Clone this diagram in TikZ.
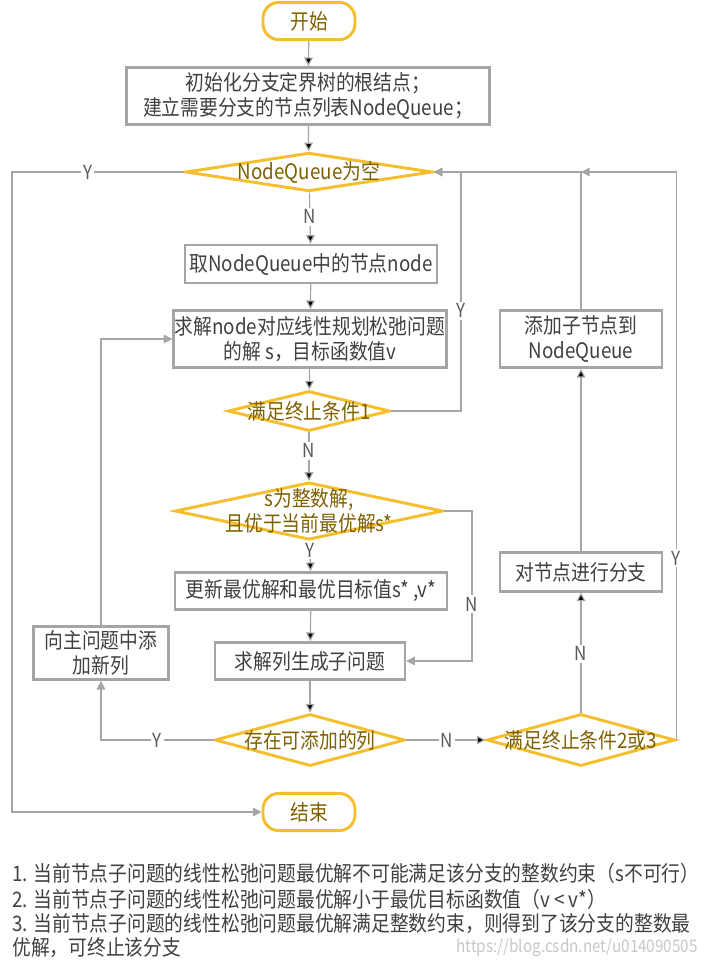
\documentclass[tikz,border=0pt]{standalone}
\usepackage{fontspec}
\setmainfont{Noto Sans CJK SC}[FakeStretch=0.88]
\usetikzlibrary{positioning}
\usetikzlibrary{shapes.geometric}
\usetikzlibrary{arrows.meta}
\definecolor{gold}{HTML}{F5BE2C}
\definecolor{goldtext}{HTML}{7F6000}
\definecolor{boxline}{HTML}{A5A5A5}
\definecolor{flowline}{HTML}{A6A6A6}
\definecolor{darktext}{HTML}{404040}
\definecolor{lbltext}{HTML}{595959}
\tikzset{
	every node/.style={align=center, font=\fontsize{16}{19}\selectfont},
	terminal/.style={rectangle, rounded corners=12pt, draw=gold, line width=2.2pt, text=goldtext, minimum width=69pt, minimum height=28pt},
	process/.style={rectangle, draw=boxline, line width=1.8pt, text=darktext, inner sep=1pt},
	decision/.style={diamond, draw=gold, line width=2.2pt, text=goldtext, inner sep=-40pt},
	flow/.style={draw=flowline, line width=0.9pt, -{Triangle[length=6.5pt,width=6.5pt]}},
	lbl/.style={fill=white, text=lbltext, inner sep=1.5pt, font=\fontsize{14.5}{16}\selectfont},
	note/.style={anchor=west, text=darktext, inner sep=0pt}
}

\begin{document}
\begin{tikzpicture}[x=0.75pt, y=-0.75pt]
	\useasboundingbox (0,0) rectangle (706,968);
	
	% main column
	\node (start) [terminal] at (309,21) {开始};
	\node (init) [process, minimum width=272pt, minimum height=43pt] at (308,96) {初始化分支定界树的根结点；\\建立需要分支的节点列表NodeQueue；};
	\node (empty) [decision, minimum width=185pt, minimum height=29pt] at (309,172) {NodeQueue为空};
	\node (take) [process, minimum width=189pt, minimum height=28.5pt] at (311,264) {取NodeQueue中的节点node};
	\node (solve) [process, minimum width=202pt, minimum height=43pt] at (310,339) {求解node对应线性规划松弛问题\\的解 s，目标函数值v};
	\node (stop1) [decision, minimum width=121.5pt, minimum height=30pt] at (309,411) {满足终止条件1};
	\node (integer) [decision, minimum width=201pt, minimum height=43pt] at (309,511) {s为整数解,\\且优于当前最优解s*};
	\node (update) [process, minimum width=204pt, minimum height=28pt] at (311,591) {更新最优解和最优目标值s* ,v*};
	\node (sub) [process, minimum width=142.5pt, minimum height=28pt] at (310,661) {求解列生成子问题};
	\node (col) [decision, minimum width=142.5pt, minimum height=39pt] at (310,740) {存在可添加的列};
	\node (end) [terminal] at (309,812) {结束};
	
	% side columns
	\node (addcol) [process, minimum width=101pt, minimum height=40pt] at (101,653) {向主问题中添\\加新列};
	\node (stop23) [decision, minimum width=141pt, minimum height=39pt] at (581,740) {满足终止条件2或3};
	\node (branch) [process, minimum width=121.5pt, minimum height=29pt] at (581,572) {对节点进行分支};
	\node (addq) [process, minimum width=121.5pt, minimum height=43pt] at (581,339) {添加子节点到\\NodeQueue};
	
	\coordinate (left) at (12,172);
	\coordinate (r1) at (461,172);
	\coordinate (r3) at (472,511);
	
	\path[flow] (start) edge (init);
	\path[flow] (init) edge (empty);
	\path[flow] (empty) edge node[lbl, pos=0.47] {N} (take);
	\path[flow] (take) edge (solve);
	\path[flow] (solve) edge (stop1);
	\path[flow] (stop1) edge node[lbl, pos=0.38] {N} (integer);
	\path[flow] (integer) edge node[lbl, pos=0.3] {Y} (update);
	\path[flow] (update) edge (sub);
	\path[flow] (sub) edge (col);
	\path[flow] (col) edge node[lbl, pos=0.51] {N} (stop23);
	\path[flow] (stop23) edge node[lbl, pos=0.49] {N} (branch);
	\path[flow] (branch) edge (addq);
	
	\draw[flow] (empty.west) -- node[lbl, pos=0.56] {Y} (left) |- (end.west);
	\draw[flow] (stop1.east) -| node[lbl, pos=0.71] {Y} (r1) -- (empty.east);
	\draw[flow] (integer.east) -- (r3) |- node[lbl, pos=0.31] {N} (sub.east);
	\draw[flow] (col.west) -| node[lbl, pos=0.25] {Y} (addcol.south);
	\draw[flow] (addcol.north) |- (solve.west);
	\draw[flow] (addq.north) |- (empty.east);
	\draw[flow] (stop23.east) |- node[lbl, pos=0.16] {Y} (addq.north |- empty.east);
	
	% notes
	\node (n1) [note] at (12,873) {1. 当前节点子问题的线性松弛问题最优解不可能满足该分支的整数约束（s不可行）};
	\node (n2) [note] at (12,899) {2. 当前节点子问题的线性松弛问题最优解小于最优目标函数值（v < v*）};
	\node (n3) [note] at (12,924) {3. 当前节点子问题的线性松弛问题最优解满足整数约束，则得到了该分支的整数最};
	\node (n4) [note] at (12,948) {优解，可终止该分支};
	\node (mark) [anchor=east, text=black!22, inner sep=0pt, font=\fontsize{13}{15}\selectfont] at (698,948) {https://blog.csdn.net/u014090505};
\end{tikzpicture}
\end{document}
